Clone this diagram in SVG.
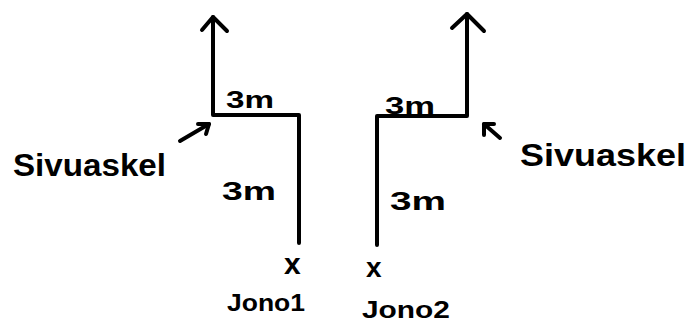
<svg xmlns="http://www.w3.org/2000/svg" width="699" height="322" viewBox="0 0 699 322">
<style>
.ln{fill:none;stroke:#000;stroke-width:4;stroke-linecap:round;stroke-linejoin:round}
.t{font-family:"Liberation Sans",Arial,sans-serif;fill:#000;font-weight:bold}
</style>
<rect width="699" height="322" fill="#fff"/>
<g id="connectors">
<path class="ln" d="M299 243 V115 H213 V17"/>
<path class="ln" d="M202 30 L213 17 L227 31"/>
<path class="ln" d="M377 245 V116 H467 V14"/>
<path class="ln" d="M452 28 L467 14 L484 31"/>
<path class="ln" d="M180 141 L209 124"/>
<path class="ln" d="M198 124 L209 124 L206 134"/>
<path class="ln" d="M500 138 L484 124"/>
<path class="ln" d="M484 135 L484 124 L494 124"/>
</g>
<g id="label-left-top"><text class="t" x="226" y="108" font-size="24" textLength="48" lengthAdjust="spacingAndGlyphs">3m</text></g>
<g id="label-left-mid"><text class="t" x="222" y="200" font-size="26" textLength="54" lengthAdjust="spacingAndGlyphs">3m</text></g>
<g id="label-left-side"><text class="t" x="13" y="176" font-size="32" textLength="153" lengthAdjust="spacingAndGlyphs">Sivuaskel</text></g>
<g id="start-left"><text class="t" x="284" y="274" font-size="30">x</text>
<text class="t" x="227" y="311" font-size="24" textLength="78" lengthAdjust="spacingAndGlyphs">Jono1</text></g>
<g id="label-right-top"><text class="t" x="385" y="114" font-size="24" textLength="50" lengthAdjust="spacingAndGlyphs">3m</text></g>
<g id="label-right-mid"><text class="t" x="390" y="210" font-size="26" textLength="56" lengthAdjust="spacingAndGlyphs">3m</text></g>
<g id="label-right-side"><text class="t" x="520" y="166" font-size="32" textLength="166" lengthAdjust="spacingAndGlyphs">Sivuaskel</text></g>
<g id="start-right"><text class="t" x="366" y="277" font-size="28">x</text>
<text class="t" x="362" y="318" font-size="24" textLength="88" lengthAdjust="spacingAndGlyphs">Jono2</text></g>
</svg>
